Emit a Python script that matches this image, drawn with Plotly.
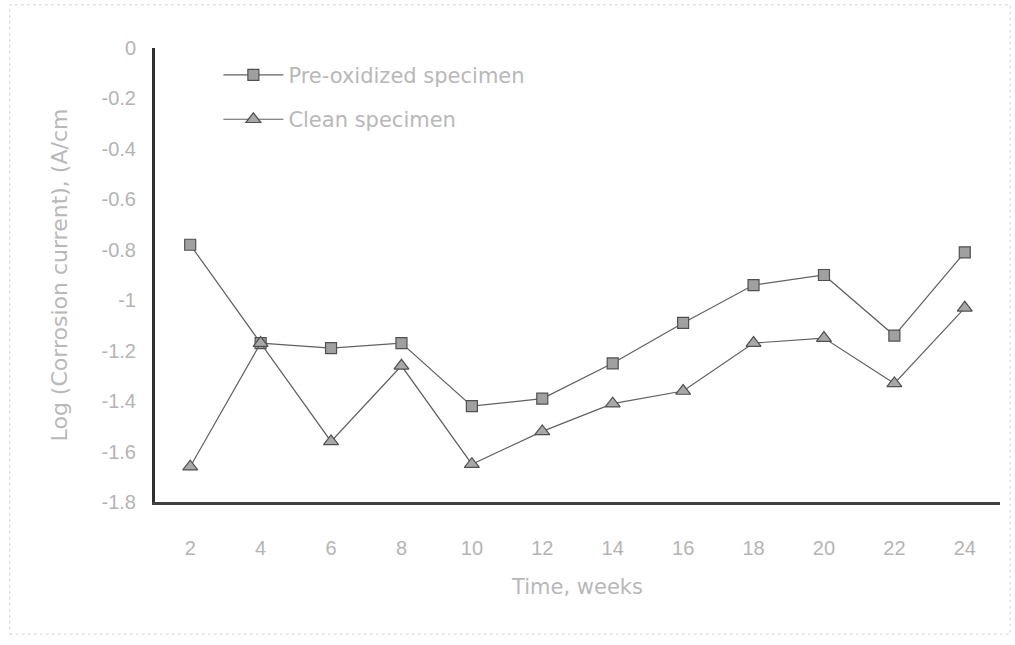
import plotly.graph_objects as go

# Exposure time (weeks) and log corrosion current for both specimen types
weeks = [2, 4, 6, 8, 10, 12, 14, 16, 18, 20, 22, 24]
pre_oxidized = [-0.78, -1.17, -1.19, -1.17, -1.42, -1.39, -1.25, -1.09, -0.94, -0.90, -1.14, -0.81]
clean = [-1.66, -1.17, -1.56, -1.26, -1.65, -1.52, -1.41, -1.36, -1.17, -1.15, -1.33, -1.03]

y_ticks = [0, -0.2, -0.4, -0.6, -0.8, -1, -1.2, -1.4, -1.6, -1.8]
y_tick_text = ["0", "-0.2", "-0.4", "-0.6", "-0.8", "-1", "-1.2", "-1.4", "-1.6", "-1.8"]

label_font = dict(family="Liberation Sans Narrow, Liberation Sans, Arial", size=20, color="#b4b4b4")
title_font = dict(family="DejaVu Sans, Liberation Sans", size=21, color="#b8b8b8")

fig = go.Figure()
fig.add_trace(go.Scatter(
    x=weeks, y=pre_oxidized, mode="lines+markers", name="Pre-oxidized specimen",
    legendgroup="pre",
    line=dict(color="#606060", width=1.2),
    marker=dict(symbol="square", size=11, color="#a0a0a0", line=dict(color="#505050", width=1.2)),
))
fig.add_trace(go.Scatter(
    x=weeks, y=clean, mode="lines+markers", name="Clean specimen",
    legendgroup="clean",
    line=dict(color="#606060", width=1.2),
    marker=dict(symbol="triangle-up", size=13, color="#a8a8a8", line=dict(color="#505050", width=1.2)),
))

fig.update_layout(
    width=1015, height=645,
    margin=dict(l=155, r=15, t=48, b=143),
    paper_bgcolor="white", plot_bgcolor="white",
    showlegend=True,
    legend=dict(
        x=0.075, y=0.985, xanchor="left", yanchor="top",
        bgcolor="rgba(0,0,0,0)", font=title_font, itemwidth=60,
        tracegroupgap=14,
    ),
    xaxis=dict(
        range=[1, 25], tickmode="array", tickvals=weeks, ticks="",
        showgrid=False, zeroline=False, showline=True, linecolor="#404040", linewidth=3,
        tickfont=label_font, ticklabelstandoff=26,
        title=dict(text="Time, weeks", font=title_font, standoff=22),
    ),
    yaxis=dict(
        range=[-1.8, 0], tickmode="array", tickvals=y_ticks, ticktext=y_tick_text, ticks="",
        showgrid=False, zeroline=False, showline=True, linecolor="#303030", linewidth=3,
        tickfont=label_font, ticklabelstandoff=12,
        title=dict(text="Log (Corrosion current), (A/cm", font=dict(family="DejaVu Sans, Liberation Sans", size=22, color="#b8b8b8"), standoff=28),
    ),
)

# faint scanned-page border
fig.add_shape(type="rect", xref="paper", yref="paper",
              x0=-0.172, x1=1.012, y0=-0.291, y1=1.095,
              line=dict(color="#d4d4d4", width=1, dash="dot"), layer="below")

fig.write_html("out.html")
